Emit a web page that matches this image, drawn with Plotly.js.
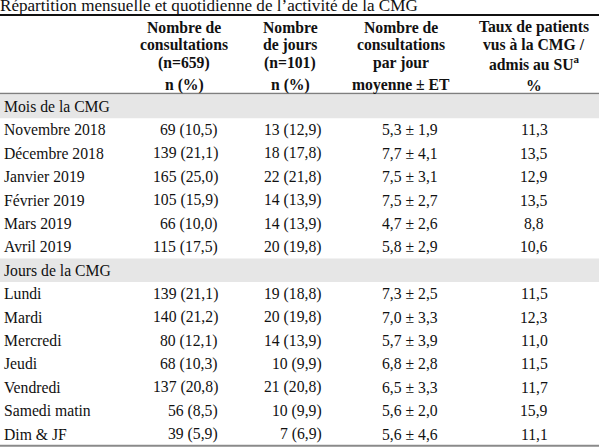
<!DOCTYPE html>
<html>
<head>
<meta charset="utf-8">
<script src="https://cdn.plot.ly/plotly-3.0.1.min.js"></script>
<style>html,body{margin:0;padding:0;background:#fff;}#chart{width:601px;height:447px;}</style>
</head>
<body>
<div id="chart"></div>
<script>
// ---- Data ----
const titleText = "Répartition mensuelle et quotidienne de l’activité de la CMG";
const groupLabels = ["Mois de la CMG", "Jours de la CMG"];

const headerCol2 = ["Nombre de", "consultations", "(n=659)", "n (%)"];
const headerCol3 = ["Nombre", "de jours", "(n=101)", "n (%)"];
const headerCol4 = ["Nombre de", "consultations", "par jour", "moyenne ± ET"];
const headerCol5 = ["Taux de patients", "vus à la CMG /", "admis au SU<sup>a</sup>", "%"];

const monthLabels = ["Novembre 2018", "Décembre 2018", "Janvier 2019", "Février 2019", "Mars 2019", "Avril 2019"];
const monthConsultN = [69, 139, 165, 105, 66, 115];
const monthConsultPct = [10.5, 21.1, 25.0, 15.9, 10.0, 17.5];
const monthJoursN = [13, 18, 22, 14, 14, 20];
const monthJoursPct = [12.9, 17.8, 21.8, 13.9, 13.9, 19.8];
const monthMoyenne = [5.3, 7.7, 7.5, 7.5, 4.7, 5.8];
const monthET = [1.9, 4.1, 3.1, 2.7, 2.6, 2.9];
const monthTaux = [11.3, 13.5, 12.9, 13.5, 8.8, 10.6];

const dayLabels = ["Lundi", "Mardi", "Mercredi", "Jeudi", "Vendredi", "Samedi matin", "Dim & JF"];
const dayConsultN = [139, 140, 80, 68, 137, 56, 39];
const dayConsultPct = [21.1, 21.2, 12.1, 10.3, 20.8, 8.5, 5.9];
const dayJoursN = [19, 20, 14, 10, 21, 10, 7];
const dayJoursPct = [18.8, 19.8, 13.9, 9.9, 20.8, 9.9, 6.9];
const dayMoyenne = [7.3, 7.0, 5.7, 6.8, 6.5, 5.6, 5.6];
const dayET = [2.5, 3.3, 3.9, 2.8, 3.3, 2.0, 4.6];
const dayTaux = [11.5, 12.3, 11.0, 11.5, 11.7, 15.9, 11.1];

// ---- Layout helpers ----
const W = 601, H = 447;
const FONT = "Liberation Serif, Times New Roman, serif";
const FS = 15.7;
const TITLE_FS = 17.1;
const TXT = "#111";
const fmt = v => v.toFixed(1).replace(".", ",");

const colLeft = 3;
const col2Right = 219, col2Center = 184;
const col3Right = 323, col3Center = 290;
const col4Center = 410, col4HeadCenter = 401;
const col5Center = 534;

const headerY = [27, 44.5, 62.5, 85];
const firstRowY = 106.5, rowStep = 23.4, halfRow = 11.7;
const rowY = i => firstRowY + i * rowStep;

const annotations = [];
const shapes = [];
function ann(text, x, y, xanchor, bold, xshift, size) {
  annotations.push({
    text: bold ? "<b>" + text + "</b>" : text,
    x: x, y: y, xref: "x", yref: "y",
    xanchor: xanchor, yanchor: "middle", xshift: xshift || 0,
    showarrow: false, borderpad: 0,
    font: {family: FONT, size: size || FS, color: TXT}
  });
}

// title (its top touches the image edge, as in the source)
ann(titleText, 0.5, 5, "left", false, -2, TITLE_FS);

// headers
[[headerCol2, col2Center], [headerCol3, col3Center], [headerCol4, col4HeadCenter], [headerCol5, col5Center]]
  .forEach(([lines, cx]) => lines.forEach((t, k) => ann(t, cx, headerY[k], "center", true)));

// body
let r = 0;
function addGroup(label) {
  const y = rowY(r);
  shapes.push({type: "rect", xref: "x", yref: "y", x0: 0, x1: 599, y0: y - halfRow, y1: y + halfRow,
    fillcolor: "#e6e6e6", line: {width: 0}, layer: "below"});
  ann(label, colLeft, y, "left", false);
  r++;
}
function addRows(labels, cN, cP, jN, jP, moy, et, taux) {
  labels.forEach((lab, i) => {
    const y = rowY(r);
    ann(lab, colLeft, y, "left", false);
    ann(cN[i] + " (" + fmt(cP[i]) + ")", col2Right, y, "right", false);
    ann(jN[i] + " (" + fmt(jP[i]) + ")", col3Right, y, "right", false);
    ann(fmt(moy[i]) + " ± " + fmt(et[i]), col4Center, y, "center", false);
    ann(fmt(taux[i]), col5Center, y, "center", false);
    r++;
  });
}
addGroup(groupLabels[0]);
addRows(monthLabels, monthConsultN, monthConsultPct, monthJoursN, monthJoursPct, monthMoyenne, monthET, monthTaux);
addGroup(groupLabels[1]);
addRows(dayLabels, dayConsultN, dayConsultPct, dayJoursN, dayJoursPct, dayMoyenne, dayET, dayTaux);

// rules
shapes.push({type: "line", xref: "x", yref: "y", x0: 0, x1: 599, y0: 15, y1: 15, line: {color: "#111", width: 2}});
shapes.push({type: "line", xref: "x", yref: "y", x0: 0, x1: 599, y0: 93.5, y1: 93.5, line: {color: "#7f7f7f", width: 1.5}});
shapes.push({type: "line", xref: "x", yref: "y", x0: 0, x1: 599, y0: rowY(r - 1) + halfRow, y1: rowY(r - 1) + halfRow, line: {color: "#8a8a8a", width: 2}});

const layout = {
  width: W, height: H,
  margin: {l: 0, r: 0, t: 0, b: 0, pad: 0},
  paper_bgcolor: "#fff", plot_bgcolor: "#fff",
  showlegend: false,
  xaxis: {range: [0, W], visible: false, fixedrange: true},
  yaxis: {range: [H, 0], visible: false, fixedrange: true},
  annotations: annotations,
  shapes: shapes
};
const data = [{type: "scatter", mode: "markers", x: [], y: [], hoverinfo: "skip", showlegend: false}];
Plotly.newPlot("chart", data, layout, {staticPlot: true, displayModeBar: false});
</script>
</body>
</html>
